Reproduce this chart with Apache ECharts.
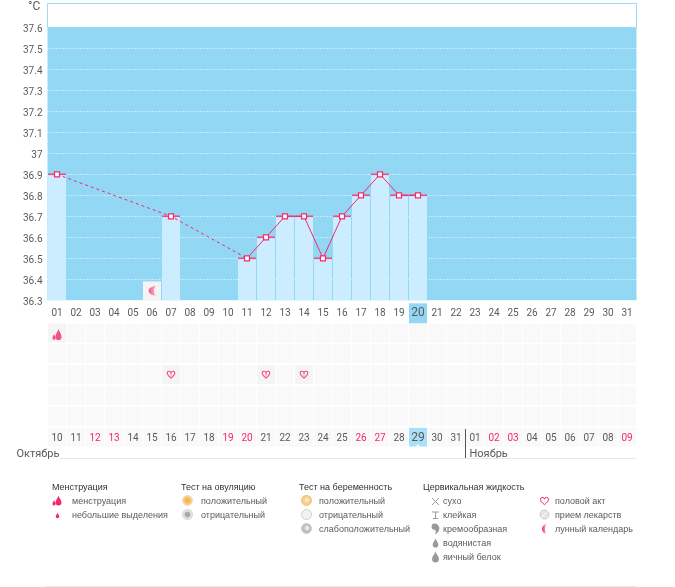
<!DOCTYPE html>
<html>
<head>
<meta charset="utf-8">
<title>График температуры</title>
<script src="https://cdn.jsdelivr.net/npm/echarts@6/dist/echarts.min.js"></script>
<style>
html, body { margin: 0; padding: 0; background: #fff; }
#chart { width: 675px; height: 587px; }
</style>
</head>
<body>
<div id="chart"></div>
<script>
var days = ['01', '02', '03', '04', '05', '06', '07', '08', '09', '10', '11', '12', '13', '14', '15', '16', '17', '18', '19', '20', '21', '22', '23', '24', '25', '26', '27', '28', '29', '30', '31'];
var cycleDates = ['10', '11', '12', '13', '14', '15', '16', '17', '18', '19', '20', '21', '22', '23', '24', '25', '26', '27', '28', '29', '30', '31', '01', '02', '03', '04', '05', '06', '07', '08', '09'];
var redDates = ['12', '13', '19', '20', '26', '27', '02', '03', '09'];
var temps = [36.9, null, null, null, null, null, 36.7, null, null, null, 36.5, 36.6, 36.7, 36.7, 36.5, 36.7, 36.8, 36.9, 36.8, 36.8, null, null, null, null, null, null, null, null, null, null, null];
var gapTemps = [36.9, null, null, null, null, null, 36.7, null, null, null, 36.5, null, null, null, null, null, null, null, null, null, null, null, null, null, null, null, null, null, null, null, null];
var todayDay = '20';
var todayDate = '29';
var moonDay = '06';
var moonLevel = 36.39;
var rows = ['bleeding', 'row2', 'act', 'row4', 'row5', 'dates'];
var bleedingDates = ['10'];
var actDates = ['16', '21', '23'];

var monthLeft = 'Октябрь';
var monthRight = 'Ноябрь';
var unitLabel = '°C';
var menstruationTitle = 'Менструация';
var menstruationItems = ['менструация', 'небольшие выделения'];
var ovulationTitle = 'Тест на овуляцию';
var ovulationItems = ['положительный', 'отрицательный'];
var pregnancyTitle = 'Тест на беременность';
var pregnancyItems = ['положительный', 'отрицательный', 'слабоположительный'];
var fluidTitle = 'Цервикальная жидкость';
var fluidItems = ['сухо', 'клейкая', 'кремообразная', 'водянистая', 'яичный белок'];
var otherItems = ['половой акт', 'прием лекарств', 'лунный календарь'];

var BLUE = '#92d8f5';
var BAR = '#cbedff';
var PINK = '#f5286a';
var TEXT = '#5a5a5a';
var ICON = '#999999';
var FONT = 'Roboto, "Liberation Sans", Arial, sans-serif';
var LEGEND_FONT = '"Liberation Sans", Arial, sans-serif';

var DROP2 = 'M8 0C9 3 12 6 12 9A4 4 0 0 1 4 9C4 6 7 3 8 0ZM2 6C3 8 4 9 4 11A2 2 0 0 1 0 11C0 9 1 8 2 6Z';
var DROP = 'M5 0C6 4 10 7 10 11A5 5 0 0 1 0 11C0 7 4 4 5 0Z';
var HEART = 'M8 14C3 10 0 7 0 4A4 4 0 0 1 8 3A4 4 0 0 1 16 4C16 7 13 10 8 14Z';
var MOON = 'M10 0A10 10 0 1 0 10 20A4 10 0 0 1 10 0Z';
var CREAM = 'M2 0C6 -1 10 2 10 6C10 10 7 13 4 14C6 11 6 9 4 8C1 8 0 6 0 4C0 2 1 0 2 0Z';
var moonFill = { type: 'linear', x: 0, y: 0, x2: 1, y2: 0, colorStops: [{ offset: 0, color: PINK }, { offset: 1, color: '#fbc6d6' }] };

function pickDays(list, rowName) {
	return list.map(function(d) {
		return [d, rowName];
	});
}

//----------------------------нижняя таблица------------------//
var cellData = [];
cycleDates.forEach(function(d) {
	rows.forEach(function(r) {
		var color = '#f8f7f9';
		if((r == 'bleeding' && bleedingDates.indexOf(d) >= 0) || (r == 'act' && actDates.indexOf(d) >= 0)) {
			color = '#f1f1f3';
		}
		if(r == 'dates' && d == todayDate) {
			color = BLUE;
		}
		cellData.push({ value: [d, r], itemStyle: { color: color } });
	});
});

var barData = temps.map(function(t, i) {
	if(days[i] == moonDay) {
		return { value: moonLevel, itemStyle: { color: '#f4f4f6' } };
	}
	return t;
});

//----------------------------легенда------------------//
var graphics = [];
var legendIcons = [];

function addText(x, y, str, color) {
	graphics.push({
		type: 'text', x: x, y: y, silent: true,
		style: { text: str, fill: color || TEXT, font: '9px ' + LEGEND_FONT, verticalAlign: 'middle' }
	});
}

function addIcon(path, cx, cy, w, h, style) {
	legendIcons.push({ path: path, x: cx - w / 2, y: cy - h / 2, w: w, h: h, style: style });
}

function addRing(cx, cy, r, fill, stroke) {
	graphics.push({
		type: 'circle', silent: true,
		shape: { cx: cx, cy: cy, r: r },
		style: { fill: fill, stroke: stroke, lineWidth: 1 }
	});
}

function addLine(x1, y1, x2, y2, color) {
	graphics.push({
		type: 'line', silent: true,
		shape: { x1: x1, y1: y1, x2: x2, y2: y2 },
		style: { stroke: color, lineWidth: 1 }
	});
}

function renderLegendIcon(params) {
	var d = legendIcons[params.dataIndex];
	return {
		type: 'path',
		shape: { pathData: d.path, x: d.x, y: d.y, width: d.w, height: d.h, layout: 'center' },
		style: d.style,
		silent: true
	};
}

// рамка над графиком
graphics.push({
	type: 'rect', silent: true,
	shape: { x: 47.5, y: 3.5, width: 589, height: 24 },
	style: { fill: '#fff', stroke: '#9adcf6', lineWidth: 1 }
});
graphics.push({
	type: 'text', x: 28, y: 7, silent: true,
	style: { text: unitLabel, fill: TEXT, font: '12px ' + FONT, verticalAlign: 'middle' }
});

// месяцы и линии
graphics.push({
	type: 'text', x: 16.5, y: 454, silent: true,
	style: { text: monthLeft, fill: TEXT, font: '11px ' + FONT, verticalAlign: 'middle' }
});
graphics.push({
	type: 'text', x: 469.5, y: 454, silent: true,
	style: { text: monthRight, fill: TEXT, font: '11px ' + FONT, verticalAlign: 'middle' }
});
addLine(465.5, 429, 465.5, 458, '#555555');
addLine(60, 458.5, 636.5, 458.5, '#e8e8e8');
addLine(46, 586.5, 636.5, 586.5, '#e8e8e8');

var titleColor = '#333333';
var titleY = 488;
var firstY = 502;
var stepY = 14;
addText(52, titleY, menstruationTitle, titleColor);
addText(181, titleY, ovulationTitle, titleColor);
addText(299, titleY, pregnancyTitle, titleColor);
addText(423, titleY, fluidTitle, titleColor);

menstruationItems.forEach(function(s, i) {
	addText(72, firstY + i * stepY, s);
});
ovulationItems.forEach(function(s, i) {
	addText(201, firstY + i * stepY, s);
});
pregnancyItems.forEach(function(s, i) {
	addText(319, firstY + i * stepY, s);
});
fluidItems.forEach(function(s, i) {
	addText(443, firstY + i * stepY, s);
});
otherItems.forEach(function(s, i) {
	addText(555, firstY + i * stepY, s);
});

addIcon(DROP2, 57, 500.5, 9, 10, { fill: PINK });
addIcon(DROP, 57.5, 515.5, 3.5, 6, { fill: PINK });

addRing(187.5, 500.5, 5, '#f8cf85', '#f6dfb5');
addRing(187.5, 500.5, 2.5, '#f2b65c', '#f2b65c');
addRing(187.5, 514.5, 5, '#e4e4e4', '#d6d6d6');
addRing(187.5, 514.5, 2.5, '#a9a9a9', '#a9a9a9');

addRing(306.5, 500.5, 5, '#f8cf85', '#f4c070');
addRing(307, 500, 2, '#fbe7c4', '#fbe7c4');
addRing(306.5, 514.5, 5, '#f3f3f3', '#cfcfcf');
addRing(306.5, 528.5, 5, '#bdbdbd', '#cfcfcf');
addRing(307, 528, 2, '#e8e8e8', '#e8e8e8');

addLine(432, 498, 439, 505, ICON);
addLine(439, 498, 432, 505, ICON);
addLine(432, 512, 439, 512, ICON);
addLine(435.5, 512, 435.5, 518, ICON);
addLine(433, 518.5, 438, 518.5, ICON);
addIcon(CREAM, 435.5, 529, 8, 11, { fill: ICON });
addIcon(DROP, 435.5, 543, 6.5, 9, { fill: ICON });
addIcon(DROP, 435.5, 557, 8, 11, { fill: ICON });

addIcon(HEART, 544.5, 501, 8, 7.5, { fill: 'none', stroke: PINK, lineWidth: 1 });
addRing(544.5, 514.5, 4.5, '#e6e6e6', '#cccccc');
addLine(541.5, 517.5, 547.5, 511.5, '#ffffff');
addIcon(MOON, 544.5, 529, 8, 10, { fill: moonFill });

//----------------------------графики------------------//
var option = {
	animation: false,
	backgroundColor: '#ffffff',
	textStyle: { fontFamily: FONT },
	grid: [{
		left: 47.5, top: 27.3, width: 589, height: 273,
		show: true, backgroundColor: BLUE, borderWidth: 0
	}, {
		left: 47.5, top: 322.6, width: 589, height: 125,
		show: false
	}],
	xAxis: [{
		gridIndex: 0,
		type: 'category',
		data: days,
		axisLine: { show: false },
		axisTick: { show: false },
		axisLabel: {
			interval: 0, margin: 3, color: TEXT, fontSize: 10, fontFamily: FONT,
			formatter: function(v) {
				return v == todayDay ? '{today|' + v + '}' : '{day|' + v + '}';
			},
			rich: {
				day: { height: 20, lineHeight: 20, fontSize: 10, color: TEXT, fontFamily: FONT },
				today: { backgroundColor: BLUE, width: 18, height: 20, lineHeight: 20, align: 'center', fontSize: 12, color: TEXT, fontFamily: FONT }
			}
		}
	}, {
		gridIndex: 1,
		type: 'category',
		data: cycleDates,
		axisLine: { show: false },
		axisTick: { show: false },
		axisLabel: {
			inside: true, interval: 0, margin: 4, fontSize: 10, fontFamily: FONT,
			color: function(v) {
				return redDates.indexOf(v) >= 0 ? PINK : TEXT;
			},
			formatter: function(v) {
				return v == todayDate ? '{today|' + v + '}' : v;
			},
			rich: {
				today: { fontSize: 12, color: TEXT, fontFamily: FONT }
			}
		},
		z: 5
	}],
	yAxis: [{
		gridIndex: 0,
		type: 'value',
		min: 36.3,
		max: 37.6,
		interval: 0.1,
		axisLine: { show: false },
		axisTick: { show: false },
		axisLabel: {
			margin: 5, color: TEXT, fontSize: 10, fontFamily: FONT,
			lineHeight: 4, verticalAlign: 'top', showMaxLabel: true, showMinLabel: true,
			formatter: function(v) {
				return String(parseFloat(v.toFixed(1)));
			}
		},
		splitLine: {
			show: true, showMaxLine: false,
			lineStyle: { color: '#ffffff', type: [1, 2], width: 1 }
		}
	}, {
		gridIndex: 1,
		type: 'category',
		inverse: true,
		data: rows,
		axisLine: { show: false },
		axisTick: { show: false },
		axisLabel: { show: false },
		splitLine: { show: false }
	}],
	series: [{
		type: 'bar',
		data: barData,
		barWidth: 18,
		itemStyle: { color: BAR },
		silent: true
	}, {
		// розовая черта над столбиком
		type: 'scatter',
		data: temps,
		symbol: 'rect',
		symbolSize: [18, 1.6],
		itemStyle: { color: PINK },
		silent: true,
		z: 3
	}, {
		type: 'line',
		data: gapTemps,
		connectNulls: true,
		symbol: 'none',
		lineStyle: { color: PINK, width: 1, type: [3, 3] },
		silent: true,
		z: 4
	}, {
		type: 'line',
		data: temps,
		connectNulls: false,
		symbol: 'rect',
		symbolSize: 5,
		showAllSymbol: true,
		lineStyle: { color: PINK, width: 1 },
		itemStyle: { color: '#ffffff', borderColor: PINK, borderWidth: 1.2 },
		silent: true,
		z: 5
	}, {
		// луна в ячейке
		type: 'scatter',
		data: [[moonDay, moonLevel - 0.045]],
		symbol: 'path://' + MOON,
		symbolSize: [9, 10],
		symbolOffset: [1, 0],
		itemStyle: { color: moonFill },
		silent: true,
		z: 5
	}, {
		type: 'scatter',
		xAxisIndex: 1,
		yAxisIndex: 1,
		data: cellData,
		symbol: 'rect',
		symbolSize: [18, 18.7],
		silent: true,
		z: 2
	}, {
		type: 'scatter',
		xAxisIndex: 1,
		yAxisIndex: 1,
		data: pickDays(bleedingDates, 'bleeding'),
		symbol: 'path://' + DROP2,
		symbolSize: [9, 11],
		symbolOffset: [0, 1.5],
		itemStyle: { color: PINK },
		silent: true,
		z: 3
	}, {
		type: 'scatter',
		xAxisIndex: 1,
		yAxisIndex: 1,
		data: pickDays(actDates, 'act'),
		symbol: 'path://' + HEART,
		symbolSize: [7.5, 7],
		itemStyle: { color: 'transparent', borderColor: PINK, borderWidth: 1.1 },
		silent: true,
		z: 3
	}, {
		// метка под сегодняшней датой
		type: 'scatter',
		xAxisIndex: 1,
		yAxisIndex: 1,
		data: pickDays([todayDate], 'dates'),
		symbol: 'triangle',
		symbolSize: [5, 3],
		symbolOffset: [0, 8],
		itemStyle: { color: '#ffffff' },
		silent: true,
		z: 4
	}, {
		// значки легенды
		type: 'custom',
		coordinateSystem: 'none',
		data: legendIcons.map(function(d, i) {
			return i;
		}),
		renderItem: renderLegendIcon,
		silent: true,
		z: 6
	}],
	graphic: { elements: graphics }
};

var chart = echarts.init(document.getElementById('chart'), null, { renderer: 'canvas' });
chart.setOption(option);
</script>
</body>
</html>
